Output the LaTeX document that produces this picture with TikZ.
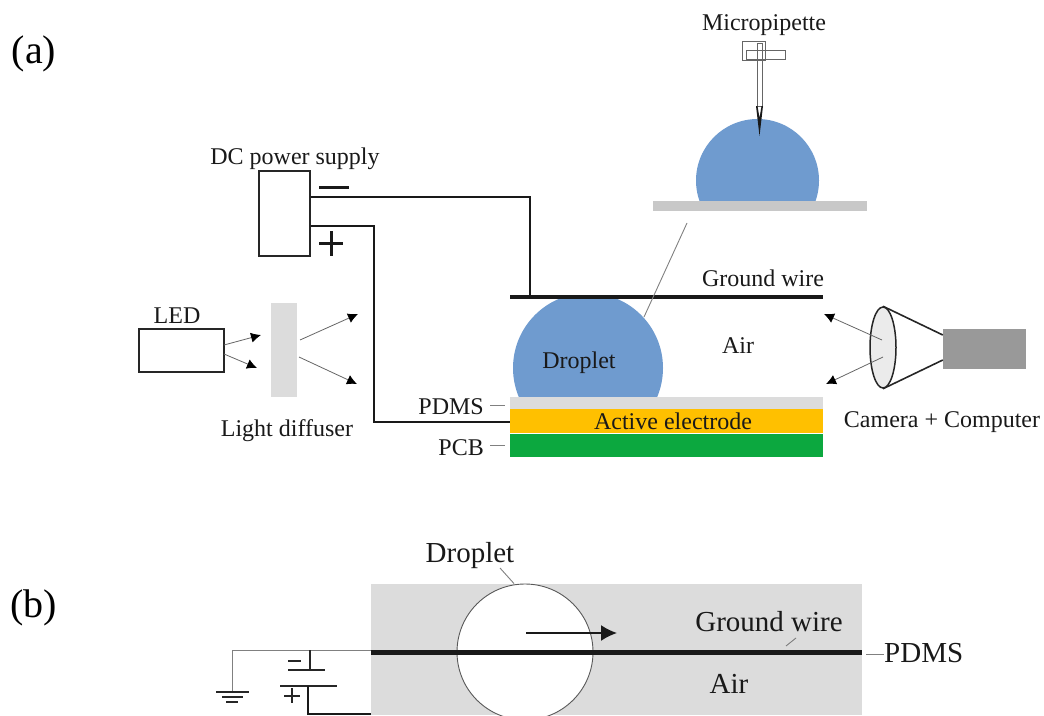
\documentclass[tikz,border=0pt]{standalone}
\usepackage{fontspec}
\setmainfont{Liberation Serif}
\usepackage{xcolor}
\usetikzlibrary{arrows.meta, shapes.geometric, positioning}
\definecolor{dropblue}{HTML}{6F9BCF}
\definecolor{padgray}{HTML}{DCDCDC}
\definecolor{plategray}{HTML}{C8C8C8}
\definecolor{electrode}{HTML}{FFC000}
\definecolor{pcbgreen}{HTML}{0CA83F}
\definecolor{camgray}{HTML}{999999}
\definecolor{leader}{HTML}{808080}

\begin{document}
\begin{tikzpicture}[x=1pt, y=-1pt, >={Latex[length=10pt,width=10pt,color=black,fill=black]},
    label/.style={inner sep=0pt, text=black!90, font=\fontsize{24}{24}\selectfont},
    biglabel/.style={inner sep=0pt, text=black!90, font=\fontsize{29}{29}\selectfont},
    panel/.style={inner sep=0pt, font=\fontsize{40}{40}\selectfont},
    hbox/.style={rectangle, draw=black!85, line width=1.4pt, fill=white, inner sep=0pt},
    solid box/.style={rectangle, inner sep=0pt, draw=none},
    wire/.style={line width=1.8pt, black!90},
    thinray/.style={line width=0.8pt, black!60},
    thinline/.style={line width=0.9pt, leader},
    batline/.style={line width=1.9pt, black!85}]

    \useasboundingbox (0,0) rectangle (1044,715);

    % panel letters
    \node[panel] (pa) at (34,54) {(a)};
    \node[panel] (pb) at (34,608) {(b)};

    % micropipette and raised droplet
    \begin{scope}
        \clip (680,100) rectangle (840,201);
        \fill[dropblue] (757.5,180.5) circle (61.5);
    \end{scope}
    \node[solid box, fill=plategray, minimum width=214pt, minimum height=10pt] (plate) at (760,206) {};
    \node[label] (pipettelabel) at (764,25) {Micropipette};
    \draw[line width=0.8pt, black!60] (742,41) rectangle (765,60);
    \draw[line width=0.8pt, black!60] (746,50) rectangle (785,59);
    \draw[line width=0.8pt, black!60] (757,43) rectangle (762,106);
    \fill[black!90] (756,106) -- (759.5,136) -- (763,106) -- (761.5,106) -- (759.5,118) -- (757.5,106) -- cycle;

    % power supply
    \node[hbox, minimum width=51pt, minimum height=85pt] (dc) at (284.5,213.5) {};
    \node[label] (dclabel) at (295,159) {DC power supply};
    \fill[black!90] (319,185.5) rectangle (349,188.5);
    \fill[black!90] (319,241.5) rectangle (343,244.5);
    \fill[black!90] (329.5,231) rectangle (332.5,256);

    % LED and diffuser
    \node[hbox, minimum width=85pt, minimum height=43pt] (led) at (181.5,350.5) {};
    \node[label] (ledlabel) at (177,316) {LED};
    \node[solid box, fill=padgray, minimum width=26pt, minimum height=94pt] (diffuser) at (284,350) {};
    \node[label] (difflabel) at (287,431) {Light diffuser};

    \coordinate (ledtop) at (224,345);
    \coordinate (ledbot) at (224,354);
    \coordinate (ledtopend) at (261,335);
    \coordinate (ledbotend) at (257,368);
    \coordinate (difftop) at (300,340);
    \coordinate (diffbot) at (299,357);
    \coordinate (difftopend) at (358,314);
    \coordinate (diffbotend) at (357,384);
    \path[->, thinray]
    (ledtop) edge (ledtopend)
    (ledbot) edge (ledbotend)
    (difftop) edge (difftopend)
    (diffbot) edge (diffbotend);

    % chip stack with droplet
    \begin{scope}
        \clip (500,297) rectangle (680,398);
        \fill[dropblue] (588,368) circle (75);
    \end{scope}
    \node[solid box, fill=padgray, minimum width=313pt, minimum height=12pt] (pdms) at (666.5,403) {};
    \node[solid box, fill=electrode, minimum width=313pt, minimum height=24pt, below=0pt of pdms] (active) {};
    \node[solid box, fill=pcbgreen, minimum width=313pt, minimum height=23pt, below=0pt of active] (pcb) {};
    \node[label] at (673,421) {Active electrode};
    \node[solid box, fill=black!90, minimum width=313pt, minimum height=4pt] (gwire) at (666.5,297) {};
    \node[label] (gwirelabel) at (763,278) {Ground wire};
    \node[label] (airlabel) at (738,346) {Air};
    \node[label] (droplabel) at (579,363) {Droplet};
    \node[label, anchor=east] (pdmslabel) at (484,407) {PDMS};
    \node[label, anchor=east] (pcblabel) at (484,448) {PCB};

    \draw[thinline] (pdmslabel.east) ++(6,-2) -- ++(15,0);
    \draw[thinline] (pcblabel.east) ++(6,-3) -- ++(15,0);
    \coordinate (zoomtop) at (687,223);
    \coordinate (zoombot) at (644,317);
    \draw[thinline] (zoomtop) -- (zoombot);

    % wires from the supply
    \coordinate (minus) at (dc.east |- 0,197);
    \coordinate (plus) at (dc.east |- 0,226);
    \draw[wire] (minus) -| (530,297);
    \draw[wire] (plus) -| (374,422) -- (active.west |- 0,422);

    % camera
    \node[solid box, fill=camgray, minimum width=83pt, minimum height=40pt] (comp) at (984.5,349) {};
    \node[ellipse, draw=black!85, line width=1.5pt, fill=black!8, inner sep=0pt, minimum width=26pt, minimum height=81pt] (lens) at (883,347.5) {};
    \draw[line width=1.6pt, black!85] (lens.north) -- (comp.west |- 0,335);
    \draw[line width=1.6pt, black!85] (lens.south) -- (comp.west |- 0,360);
    \node[label] (camlabel) at (942,422) {Camera + Computer};

    \coordinate (camtop) at (882,340);
    \coordinate (cambot) at (883,357);
    \coordinate (camtopend) at (824,314);
    \coordinate (cambotend) at (826,384);
    \path[->, thinray]
    (camtop) edge (camtopend)
    (cambot) edge (cambotend);

    % panel b
    \node[solid box, fill=padgray, minimum width=491pt, minimum height=131pt] (sheet) at (616.5,649.5) {};
    \begin{scope}
        \clip (sheet.south west) rectangle (sheet.north east);
        \node[circle, draw=black!65, line width=0.9pt, fill=white, inner sep=0pt, minimum size=136pt] (drop) at (525,652) {};
    \end{scope}
    \node[solid box, fill=black!90, minimum width=491pt, minimum height=4.5pt] (bwire) at (616.5,652.5) {};
    \coordinate (arrowstart) at (526,633);
    \coordinate (arrowend) at (617,633);
    \draw[-{Latex[length=16pt,width=16pt]}, line width=1.8pt, black!90] (arrowstart) -- (arrowend);

    \node[biglabel] (bdrop) at (470,556) {Droplet};
    \node[biglabel] (bgwire) at (769,622) {Ground wire};
    \node[biglabel] (bair) at (729,684) {Air};
    \node[biglabel, anchor=west] (bpdms) at (884,653) {PDMS};
    \coordinate (dropline) at (500,568);
    \draw[thinline] (dropline) -- (drop.north -| 514,0);
    \draw[thinline] (786,646) -- (796,638);
    \draw[thinline] (866,654) -- (bpdms.west |- 0,654);

    % ground and battery
    \coordinate (gnd) at (232,650);
    \draw[thinline] (bwire.west |- 0,650) -- (gnd) -- (232,691);
    \draw[batline] (216,692) -- (249,692);
    \draw[batline] (222,697) -- (243,697);
    \draw[batline] (226,702) -- (238,702);

    \draw[batline] (310,650) -- (310,670);
    \draw[batline] (288,670) -- (325,670);
    \draw[batline] (288,661) -- (301,661);
    \draw[batline] (280,686) -- (337,686);
    \draw[batline] (284,696) -- (300,696);
    \draw[batline] (292,688) -- (292,703);
    \draw[wire] (308,686) |- (sheet.west |- 0,714);
\end{tikzpicture}
\end{document}
